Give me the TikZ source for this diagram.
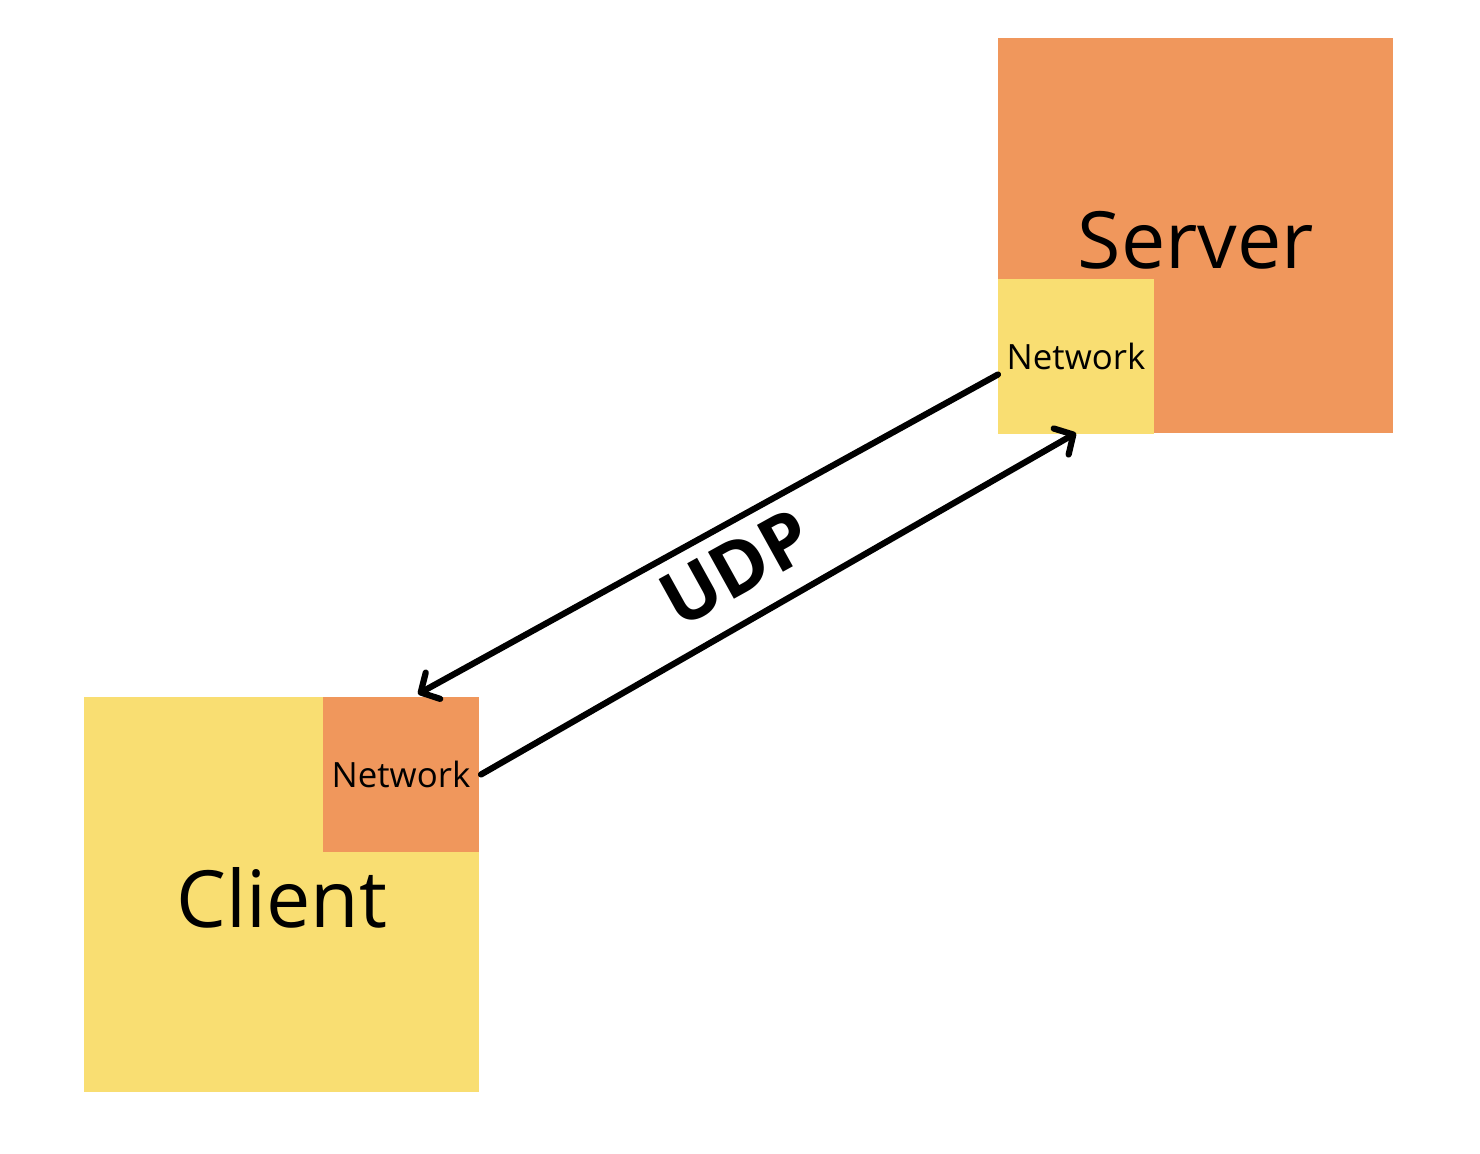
\documentclass[tikz,border=0pt]{standalone}
\usepackage{fontspec}
\setmainfont{Open Sans}
\usetikzlibrary{arrows.meta}
\definecolor{orng}{HTML}{F0975C}
\definecolor{ylw}{HTML}{F9DE72}
\begin{document}
\begin{tikzpicture}[x=0.5pt,y=-0.5pt,
  bigbox/.style={minimum width=197.5pt,minimum height=197.5pt,inner sep=0pt,outer sep=0pt,anchor=north west},
  netbox/.style={minimum width=78pt,minimum height=77.5pt,inner sep=0pt,outer sep=0pt,anchor=north west,font=\fontsize{17.4}{20}\selectfont},
  bigtext/.style={font=\fontsize{39.5}{47}\selectfont,inner sep=0pt},
  link/.style={line width=3.1pt,line cap=round,-{Straight Barb[length=7pt,width=15pt,line cap=round,line join=round]}}]
\useasboundingbox (0,0) rectangle (1480,1154);
\node[bigbox,fill=orng] (server) at (998,38) {};
\node[netbox,fill=ylw] (snet) at (998,279) {Network};
\node[bigtext] (stext) at (1196,240) {Server};
\node[bigbox,fill=ylw] (client) at (84,697) {};
\node[netbox,fill=orng] (cnet) at (323,697) {Network};
\node[bigtext] (ctext) at (282,898) {Client};
\draw[link] ([yshift=-9pt]snet.west) -- ([xshift=8.5pt,yshift=1.5pt]cnet.north);
\draw[link] ([xshift=1pt]cnet.east) -- ([yshift=0.5pt]snet.south);
\node[rotate=29,inner sep=0pt,font=\fontsize{37.5}{42}\selectfont\bfseries] (udp) at (736,568) {UDP};
\end{tikzpicture}
\end{document}
